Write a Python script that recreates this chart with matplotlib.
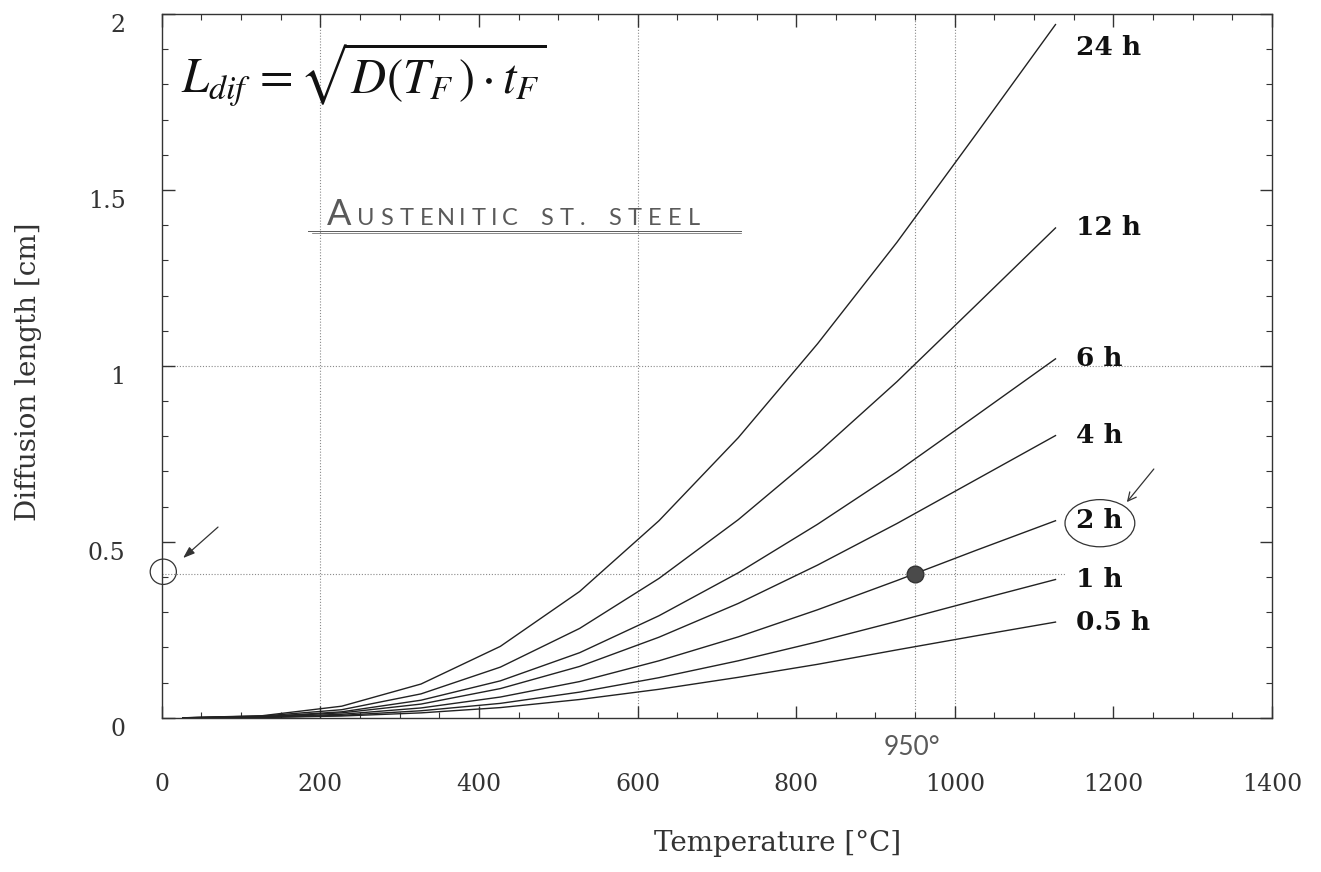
import matplotlib
matplotlib.use("Agg")
import matplotlib.pyplot as plt
from matplotlib.patches import Ellipse
from matplotlib.transforms import ScaledTranslation
from matplotlib.ticker import MultipleLocator, FixedLocator

# Furnace temperature grid [°C]
temperature = [27, 127, 227, 327, 427, 527, 627, 727, 827, 927, 1027, 1127]

# Diffusion length [cm] for each holding time
hold_times = ["24 h", "12 h", "6 h", "4 h", "2 h", "1 h", "0.5 h"]
L_24h = [0.000, 0.006, 0.033, 0.096, 0.203, 0.359, 0.560, 0.796, 1.063, 1.351, 1.659, 1.970]
L_12h = [0.000, 0.005, 0.023, 0.068, 0.144, 0.254, 0.396, 0.563, 0.752, 0.955, 1.173, 1.392]
L_6h = [0.000, 0.003, 0.017, 0.050, 0.105, 0.185, 0.290, 0.412, 0.550, 0.699, 0.859, 1.020]
L_4h = [0.000, 0.003, 0.014, 0.039, 0.083, 0.146, 0.229, 0.325, 0.434, 0.552, 0.677, 0.802]
L_2h = [0.000, 0.002, 0.010, 0.028, 0.059, 0.103, 0.162, 0.230, 0.307, 0.390, 0.476, 0.560]
L_1h = [0.000, 0.001, 0.007, 0.020, 0.041, 0.073, 0.114, 0.162, 0.216, 0.274, 0.334, 0.393]
L_05h = [0.000, 0.001, 0.005, 0.014, 0.029, 0.052, 0.081, 0.115, 0.152, 0.193, 0.233, 0.272]
series = [L_24h, L_12h, L_6h, L_4h, L_2h, L_1h, L_05h]

# Label anchor heights (24 h label sits just under the frame)
label_y = [1.905, 1.392, 1.020, 0.802, 0.560, 0.393, 0.272]

x_ticks = [0, 200, 400, 600, 800, 1000, 1200, 1400]
y_ticks = [0, 0.5, 1, 1.5, 2]
y_tick_labels = ["0", "0.5", "1", "1.5", "2"]

# Marked working point: 950 °C, 2 h
T_mark = 950
L_mark = 0.410

W, H = 1321, 872
fig = plt.figure(figsize=(W / 100, H / 100), dpi=100)
fig.patch.set_facecolor("white")
ax = fig.add_axes([161.7 / W, 1 - 717.8 / H, (1272 - 161.7) / W, (717.8 - 14) / H])

ink = "#222222"
grid_c = "#8a8a8a"
dot_ls = (0, (1, 1.6))

ax.set_xlim(0, 1400)
ax.set_ylim(0, 2)

# Sparse grid
for gx in [200, 600, 1000]:
    ax.axvline(gx, color=grid_c, lw=0.8, ls=dot_ls, zorder=1)
ax.axhline(1, color=grid_c, lw=0.8, ls=dot_ls, zorder=1)

# Curves
for vals in series:
    ax.plot(temperature, vals, color=ink, lw=1.0, zorder=3)

for name, yl in zip(hold_times, label_y):
    ax.text(1153, yl, name, ha="left", va="center", fontsize=19,
            fontweight="bold", family="DejaVu Serif", color="#111111")

# Working-point guides and marker
ax.plot([T_mark, T_mark], [0, 2], color=grid_c, lw=0.8, ls=dot_ls, zorder=1)
ax.plot([0, 1140], [L_mark, L_mark], color=grid_c, lw=0.8, ls=dot_ls, zorder=1)
ax.plot([T_mark], [L_mark], "o", ms=12, color="#4a4a4a", mec="#333333", zorder=5)

# Frame and ticks
for s in ax.spines.values():
    s.set_color("#333333")
    s.set_linewidth(1.0)
ax.xaxis.set_major_locator(FixedLocator(x_ticks))
ax.xaxis.set_minor_locator(MultipleLocator(50))
ax.yaxis.set_major_locator(FixedLocator(y_ticks))
ax.yaxis.set_minor_locator(MultipleLocator(0.1))
ax.set_xticklabels([str(v) for v in x_ticks])
ax.set_yticklabels(y_tick_labels)
ax.tick_params(which="both", direction="in", top=True, right=True, colors="#333333")
ax.tick_params(which="major", length=9, width=1.0)
ax.tick_params(which="minor", length=4.5, width=0.8)
ax.tick_params(axis="x", which="major", pad=40, labelsize=17, labelcolor="#333333")
ax.tick_params(axis="y", which="major", pad=26, labelsize=17, labelcolor="#333333")
for lab in ax.get_xticklabels() + ax.get_yticklabels():
    lab.set_family("DejaVu Serif")
shift = ScaledTranslation(0, -9 / 100, fig.dpi_scale_trans)
for lab in ax.get_yticklabels():
    lab.set_transform(lab.get_transform() + shift)

fig.text(29 / W, 1 - 372 / H, "Diffusion length [cm]", rotation=90, ha="center",
         va="center", fontsize=20, family="DejaVu Serif", color="#333333")
fig.text(778 / W, 1 - 843 / H, "Temperature [°C]", ha="center", va="center",
         fontsize=20, family="DejaVu Serif", color="#333333")

# Formula
plt.rcParams["mathtext.fontset"] = "stix"
ax.text(24, 1.775, r"$L_{dif}\,=\sqrt{D(T_F\,)\cdot t_F}$", fontsize=35,
        ha="left", va="baseline", color="#111111")

# Handwritten notes, lettered one glyph at a time
hand = "#5a5a5a"
hand_font = dict(family="Lato", fontweight="normal", color=hand,
                 ha="center", va="baseline")
ax.text(224, 1.40, "A", fontsize=26, **hand_font)
note = "USTENITIC ST. STEEL"
advance = {"I": 12, ".": 12, " ": 16}
x_px = 356
for ch in note:
    step = advance.get(ch, 20)
    if ch != " ":
        ax.text((x_px + step / 2 - 161.7) / 0.7925, 1.40, ch, fontsize=17, **hand_font)
    x_px += step
ax.plot([185, 730], [1.383, 1.383], color=hand, lw=0.7)
ax.plot([190, 730], [1.377, 1.377], color=hand, lw=0.5)

ax.text(946, -0.083, "950°", fontsize=19, family="Lato", fontweight="normal",
        color=hand, ha="center", va="center", clip_on=False)

ax.add_patch(Ellipse((2, 0.415), 33, 0.072, fill=False, lw=0.9, ec="#333333",
                     clip_on=False, zorder=6))
ax.annotate("", xy=(27, 0.454), xytext=(71, 0.542),
            arrowprops=dict(arrowstyle="-|>,head_length=0.7,head_width=0.25",
                            lw=0.9, color="#333333", shrinkA=0, shrinkB=0))

ax.add_patch(Ellipse((1183, 0.553), 88, 0.134, fill=False, lw=0.9, ec="#333333",
                     clip_on=False, zorder=6))
ax.annotate("", xy=(1217, 0.613), xytext=(1251, 0.707),
            arrowprops=dict(arrowstyle="->,head_length=0.6,head_width=0.3",
                            lw=0.9, color="#333333", shrinkA=0, shrinkB=0))

fig.savefig("out.png", dpi=100, facecolor="white")
